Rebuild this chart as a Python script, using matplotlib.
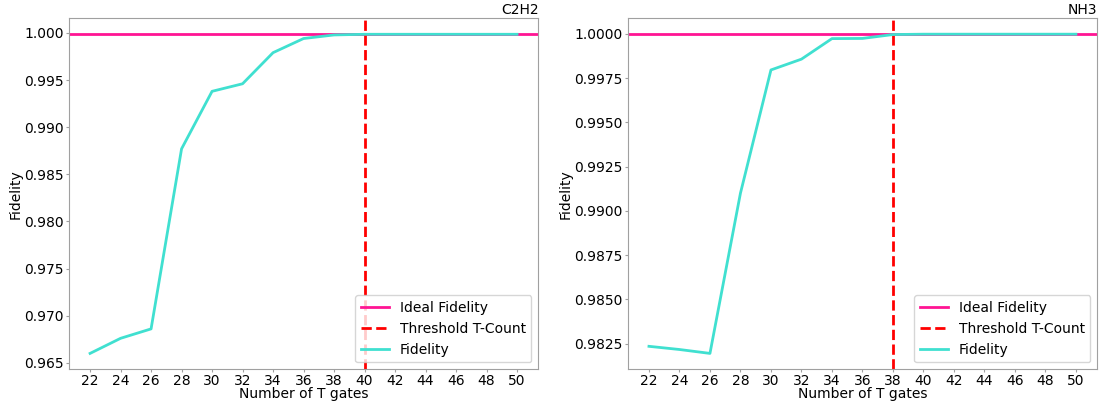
import numpy as np
import matplotlib
matplotlib.use("Agg")
import matplotlib.pyplot as plt

matplotlib.rcParams['font.size'] = 10

# T-gate counts
t_gates = [22, 24, 26, 28, 30, 32, 34, 36, 38, 40, 42, 44, 46, 48, 50]

# fidelity per molecule
fid_c2h2 = [0.9660, 0.9676, 0.9686, 0.9877, 0.9938, 0.9946, 0.9979, 0.9994,
            0.99978, 0.99985, 0.99985, 0.99985, 0.99985, 0.99985, 0.99985]
fid_nh3 = [0.98235, 0.98217, 0.98195, 0.99100, 0.99796, 0.99857, 0.99973, 0.99974,
           0.99996, 0.99998, 0.99998, 0.99998, 0.99998, 0.99998, 0.99998]

ideal_c2h2 = 0.99986
ideal_nh3 = 0.99998
threshold_c2h2 = 40
threshold_nh3 = 38

molecules = ["C2H2", "NH3"]
fids = [fid_c2h2, fid_nh3]
ideals = [ideal_c2h2, ideal_nh3]
thresholds = [threshold_c2h2, threshold_nh3]


def Plot(ax, name, fid, ideal, thr):
    ax.axhline(ideal, color='#ff1493', linewidth=2, label='Ideal Fidelity')
    ax.axvline(thr, color='red', linestyle='--', linewidth=2, label='Threshold T-Count')
    ax.plot(t_gates, fid, color='#40e0d0', linewidth=2, label='Fidelity')
    ax.set_xticks(t_gates)
    ax.set_xlabel('Number of T gates', labelpad=-1)
    ax.set_ylabel('Fidelity', labelpad=1)
    ax.set_title(name, loc='right', pad=3, fontsize=10)
    ax.legend(loc='lower right')
    for s in ax.spines.values():
        s.set_color('#a0a0a0')
    ax.tick_params(color='#a0a0a0', length=2, pad=1.5)


fig, axs = plt.subplots(1, 2, figsize=(11.05, 4.05), dpi=100)
for i in range(2):
    Plot(axs[i], molecules[i], fids[i], ideals[i], thresholds[i])

plt.subplots_adjust(left=0.0622, right=0.9930, bottom=0.0880, top=0.9550, wspace=0.19)
plt.savefig('out.png', dpi=100)
